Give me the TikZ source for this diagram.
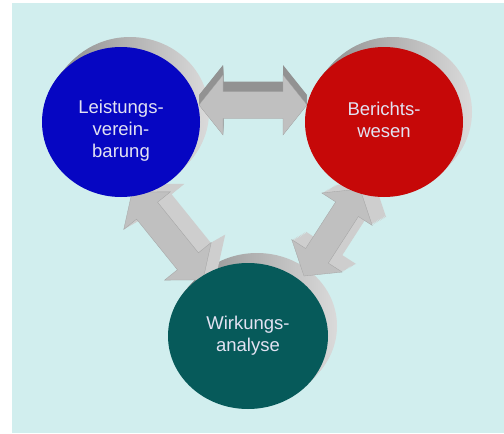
\documentclass[tikz,border=0pt]{standalone}
\usepackage{fontspec}
\setmainfont{Liberation Sans}
\usetikzlibrary{calc,shapes.geometric}

\definecolor{bgcyan}{RGB}{209,238,238}
\definecolor{lvblue}{RGB}{6,6,194}
\definecolor{bwred}{RGB}{198,8,8}
\definecolor{wateal}{RGB}{6,90,90}
\definecolor{discfont}{RGB}{226,226,242}
\definecolor{arrfacecol}{RGB}{192,192,192}
\definecolor{arrtopcol}{RGB}{146,146,146}
\definecolor{arrsidecol}{RGB}{206,206,206}
\definecolor{rimdark}{RGB}{140,140,140}
\definecolor{rimlight}{RGB}{218,218,218}

\tikzset{
  disc/.style={ellipse, inner sep=0pt, minimum width=158pt, minimum height=150pt},
  disctext/.style={text=discfont, align=center, font=\fontsize{18.5}{22}\selectfont},
  rim/.style={left color=rimdark, right color=rimlight},
}

% 3D block arrow between two named coordinates, #3/#4 = depth offset, #5 = depth colour
\newcommand{\blockarrow}[5]{%
  \path let \p1=($(#2)-(#1)$) in
    \pgfextra{\pgfmathparse{atan2(\y1,\x1)}\xdef\arrang{\pgfmathresult}%
      \pgfmathparse{veclen(\x1,\y1)}\xdef\arrlen{\pgfmathresult}};
  \foreach \k in {10,9,...,1}
    \fill[#5, shift={(#1)}, shift={({0.1*\k*#3},{0.1*\k*#4})}, rotate=\arrang]
      (0,0) -- (24,30) -- (24,13.5) -- ({\arrlen-24},13.5) -- ({\arrlen-24},30)
      -- (\arrlen,0) -- ({\arrlen-24},-30) -- ({\arrlen-24},-13.5) -- (24,-13.5)
      -- (24,-30) -- cycle;
  \filldraw[fill=arrfacecol, draw=arrfacecol!85!black, line width=0.3pt,
      shift={(#1)}, rotate=\arrang]
      (0,0) -- (24,30) -- (24,13.5) -- ({\arrlen-24},13.5) -- ({\arrlen-24},30)
      -- (\arrlen,0) -- ({\arrlen-24},-30) -- ({\arrlen-24},-13.5) -- (24,-13.5)
      -- (24,-30) -- cycle;
}

\begin{document}
\begin{tikzpicture}[x=1pt, y=-1pt]
  \useasboundingbox (0,0) rectangle (504,434);
  \fill[bgcyan] (12,3) rectangle (504,433);

  % centres of the three discs
  \coordinate (lvc) at (121,122);
  \coordinate (bwc) at (384,122);
  \coordinate (wac) at (248,336);

  % grey rims
  \foreach \k in {1,...,10} {
    \shade[rim] ($(lvc)+(0.9*\k,-\k)$) ellipse [x radius=79pt, y radius=75pt];
    \shade[rim] ($(bwc)+(0.9*\k,-\k)$) ellipse [x radius=79pt, y radius=75pt];
    \shade[rim] ($(wac)+(0.9*\k,-\k)$) ellipse [x radius=80pt, y radius=73pt];
  }

  % arrow ends
  \coordinate (h1) at (199,105);
  \coordinate (h2) at (307,105);
  \coordinate (d1) at (132,192);
  \coordinate (d2) at (203,280);
  \coordinate (r1) at (304,276);
  \coordinate (r2) at (360,189);

  \blockarrow{h1}{h2}{0}{-10}{arrtopcol}
  \blockarrow{d1}{d2}{14}{-8}{arrsidecol}
  \blockarrow{r1}{r2}{14}{-8}{arrsidecol}

  \node[disc, fill=lvblue,
    label={[disctext, yshift=-9pt]center:{Leistungs-\\verein-\\barung}}] (lv) at (lvc) {};
  \node[disc, fill=bwred,
    label={[disctext, yshift=2pt]center:{Berichts-\\wesen}}] (bw) at (bwc) {};
  \node[disc, fill=wateal, minimum width=160pt, minimum height=146pt,
    label={[disctext]center:{Wirkungs-\\analyse}}] (wa) at (wac) {};
\end{tikzpicture}
\end{document}
